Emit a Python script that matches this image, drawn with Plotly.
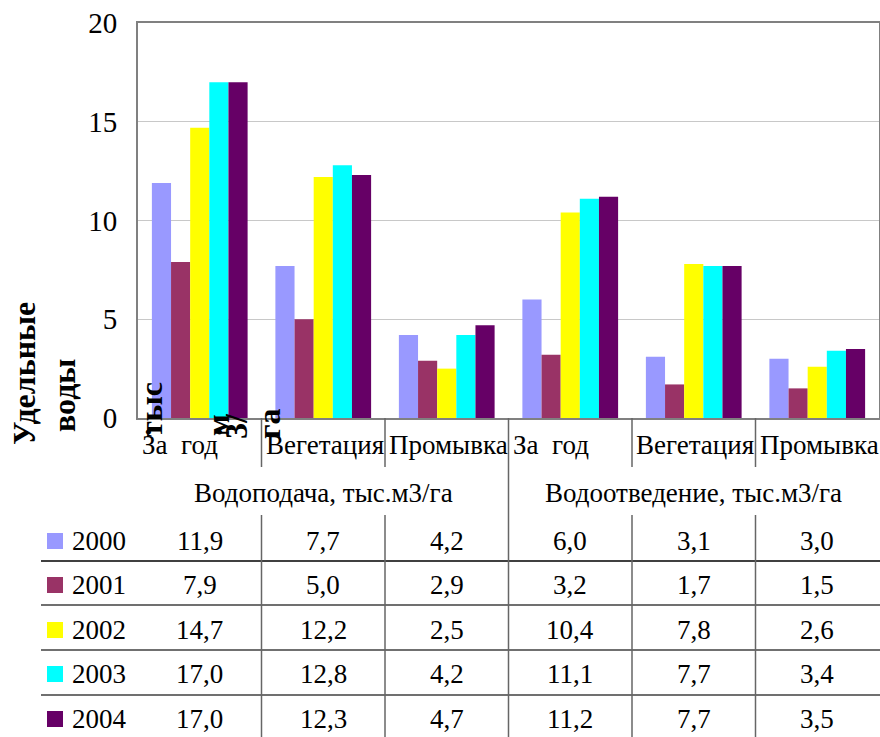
import plotly.graph_objects as go

# Specific water use, thousand m3/ha
categories = ["За\u00a0\u00a0год", "Вегетация", "Промывка", "За\u00a0\u00a0год", "Вегетация", "Промывка"]
groups = ["Водоподача, тыс.м3/га", "Водоотведение, тыс.м3/га"]
years = ["2000", "2001", "2002", "2003", "2004"]
colors = ["#9999FF", "#993366", "#FFFF00", "#00FFFF", "#660066"]

v2000 = [11.9, 7.7, 4.2, 6.0, 3.1, 3.0]
v2001 = [7.9, 5.0, 2.9, 3.2, 1.7, 1.5]
v2002 = [14.7, 12.2, 2.5, 10.4, 7.8, 2.6]
v2003 = [17.0, 12.8, 4.2, 11.1, 7.7, 3.4]
v2004 = [17.0, 12.3, 4.7, 11.2, 7.7, 3.5]
series = [v2000, v2001, v2002, v2003, v2004]

y_ticks = [0, 5, 10, 15, 20]

W, H = 880, 737
FONT = "Liberation Serif, Times New Roman, serif"
FS = 27


def px(x):
    return x / W


def py(y):
    return 1 - y / H


xpos = list(range(len(categories)))

fig = go.Figure()
for name, vals, col in zip(years, series, colors):
    fig.add_trace(go.Bar(x=xpos, y=vals, name=name, marker=dict(color=col, line=dict(width=0)),
                         showlegend=False))

plot_left, plot_right, plot_top, plot_bottom = 138, 879, 23, 418

fig.update_layout(
    width=W, height=H,
    margin=dict(l=0, r=0, t=0, b=0, autoexpand=False),
    paper_bgcolor="white", plot_bgcolor="white",
    barmode="group", bargap=0.225, bargroupgap=0,
    font=dict(family=FONT, size=FS, color="black"),
    xaxis=dict(domain=[px(plot_left), px(plot_right)], range=[-0.5, 5.5],
               showticklabels=False, showgrid=False, zeroline=False,
               showline=True, mirror=True, linecolor="#808080", linewidth=2, ticks=""),
    yaxis=dict(domain=[py(plot_bottom), py(plot_top)], range=[0, 20],
               tickvals=y_ticks, ticktext=[str(t) for t in y_ticks],
               showgrid=True, gridcolor="#c8c8c8", gridwidth=1, zeroline=False,
               showline=True, mirror=True, linecolor="#808080", linewidth=2,
               ticks="", ticklabelstandoff=13,
               tickfont=dict(family=FONT, size=29)),
)

shapes = []
annotations = []

# category labels under the bars
for i, c in enumerate(categories):
    annotations.append(dict(x=i - 0.5, xref="x", y=py(445), yref="paper", text=c,
                            xanchor="left", yanchor="middle", xshift=2, showarrow=False,
                            font=dict(family=FONT, size=FS)))

# group labels
for g, gx in zip(groups, [1, 4]):
    annotations.append(dict(x=gx, xref="x", y=py(493), yref="paper", text=g,
                            xanchor="center", yanchor="middle", showarrow=False,
                            font=dict(family=FONT, size=FS)))

# table rows: legend key, year and values
row_y = [541, 585, 630, 674, 719]
for r, (name, vals, col) in enumerate(zip(years, series, colors)):
    yc = row_y[r]
    shapes.append(dict(type="rect", xref="paper", yref="paper",
                       x0=px(47), x1=px(63), y0=py(yc - 8), y1=py(yc + 8),
                       fillcolor=col, line=dict(width=0)))
    annotations.append(dict(x=px(70), xref="paper", y=py(yc), yref="paper", text=name,
                            xanchor="left", yanchor="middle", showarrow=False,
                            font=dict(family=FONT, size=FS)))
    for i, v in enumerate(vals):
        annotations.append(dict(x=i, xref="x", y=py(yc), yref="paper",
                                text=f"{v:.1f}".replace(".", ","),
                                xanchor="center", yanchor="middle", showarrow=False,
                                font=dict(family=FONT, size=FS)))

# horizontal row separators
for k, ys in enumerate([561, 605, 650, 695]):
    shapes.append(dict(type="line", xref="paper", yref="paper",
                       x0=px(41), x1=1, y0=py(ys), y1=py(ys),
                       line=dict(color="#000000" if k == 0 else "#404040", width=1.5)))

# vertical separators
for b in [0.5, 1.5, 2.5, 3.5, 4.5]:
    if b == 2.5:
        shapes.append(dict(type="line", xref="x", yref="paper", x0=b, x1=b,
                           y0=py(plot_bottom), y1=0, line=dict(color="#666666", width=1.5)))
    else:
        shapes.append(dict(type="line", xref="x", yref="paper", x0=b, x1=b,
                           y0=py(plot_bottom), y1=py(467), line=dict(color="#666666", width=1.5)))
        shapes.append(dict(type="line", xref="x", yref="paper", x0=b, x1=b,
                           y0=py(515), y1=0, line=dict(color="#666666", width=1.5)))

# axis title, wrapped into vertical fragments
title_parts = [
    ("Удельные", 24, 374),
    ("воды", 64, 396),
    ("тыс", 151, 410),
    (".", 140, 432),
    ("м", 218, 425),
    (".", 211, 432),
    ("3/", 236, 426),
    ("га", 269, 424),
]
for txt, xc, yc in title_parts:
    annotations.append(dict(x=px(xc), xref="paper", y=py(yc), yref="paper", text=txt,
                            textangle=-90, xanchor="center", yanchor="middle",
                            showarrow=False,
                            font=dict(family=FONT, size=32, color="black", weight="bold")))

fig.update_layout(shapes=shapes, annotations=annotations)
fig.write_html("out.html")
